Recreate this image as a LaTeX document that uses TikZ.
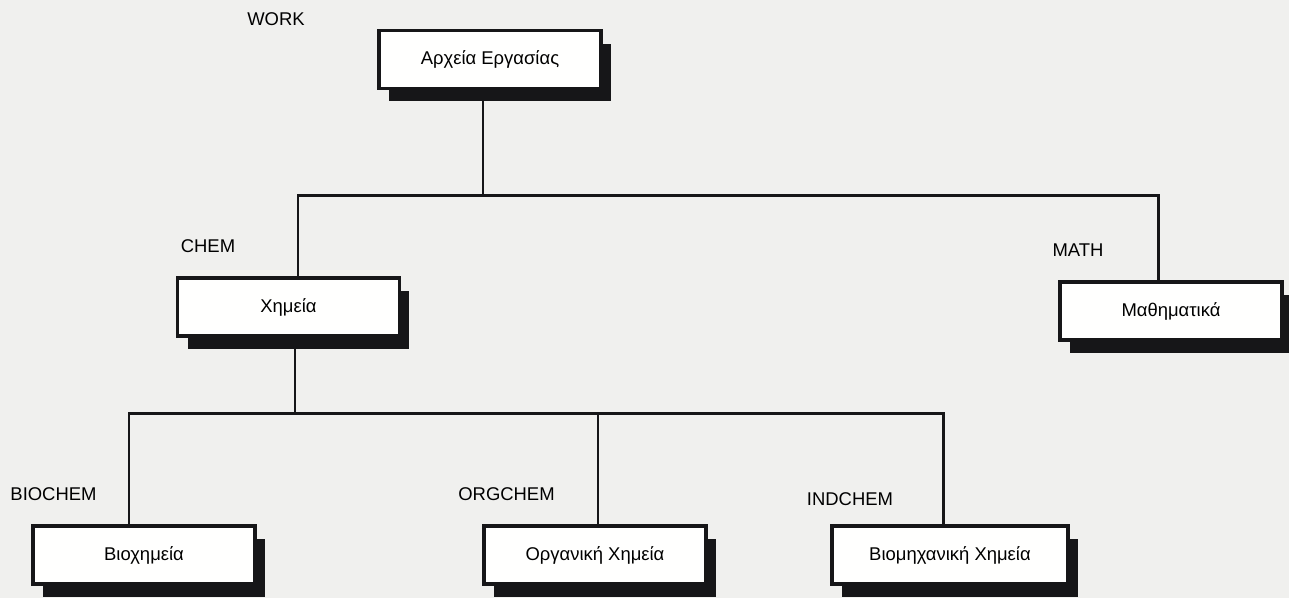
\documentclass[tikz,border=0pt]{standalone}
\usepackage{fontspec}
\setmainfont{Liberation Sans}
\usetikzlibrary{calc,shadows}

\definecolor{paper}{RGB}{240,240,238}
\definecolor{ink}{RGB}{22,22,24}

\tikzset{
  folder/.style={draw=ink, line width=2pt, fill=white!97!paper,
    minimum width=4.44cm, minimum height=1.16cm, inner sep=0pt,
    font=\fontsize{10.5}{12}\selectfont,
    drop shadow={shadow xshift=0.2cm, shadow yshift=-0.26cm,
      fill=ink, opacity=1}},
  tag/.style={inner sep=0pt, font=\fontsize{10.5}{12}\selectfont},
  link/.style={draw=ink, line width=1.7pt}
}

\begin{document}
\begin{tikzpicture}[x=0.02cm, y=-0.02cm]

    % Page
    \fill[paper] (0,0) rectangle (1289,598);
    \useasboundingbox (0,0) rectangle (1289,598);

    % Directories
    \node[folder] (work) at (490,59.5) {Αρχεία Εργασίας};
    \node[folder] (chem) at (288.5,307) {Χημεία};
    \node[folder] (math) at (1171,311) {Μαθηματικά};
    \node[folder] (bio) at (144,555) {Βιοχημεία};
    \node[folder] (org) at (595,555) {Οργανική Χημεία};
    \node[folder, minimum width=4.72cm] (ind) at (950,555) {Βιομηχανική Χημεία};

    % Directory names
    \node[tag] (work name) at (276,19.5) {WORK};
    \node[tag] (chem name) at (208,246.5) {CHEM};
    \node[tag] (math name) at (1078,250) {MATH};
    \node[tag] (bio name) at (53.5,494) {BIOCHEM};
    \node[tag] (org name) at (506.5,494) {ORGCHEM};
    \node[tag] (ind name) at (850,499) {INDCHEM};

    % First level
    \draw[link] ($(work.south)+(-7,0)$) -- ++(0,105) coordinate (top);
    \draw[link] ($(chem.north)+(9.5,0)$) |- (top) -| ($(math.north)+(-13,0)$);

    % Second level
    \draw[link] ($(chem.south)+(6.5,0)$) -- ++(0,76) coordinate (mid);
    \draw[link] ($(bio.north)+(-15,0)$) |- (mid) -| ($(ind.north)+(-7,0)$);
    \draw[link] ($(org.north)+(3,0)$) |- (mid);

  \end{tikzpicture}
\end{document}
